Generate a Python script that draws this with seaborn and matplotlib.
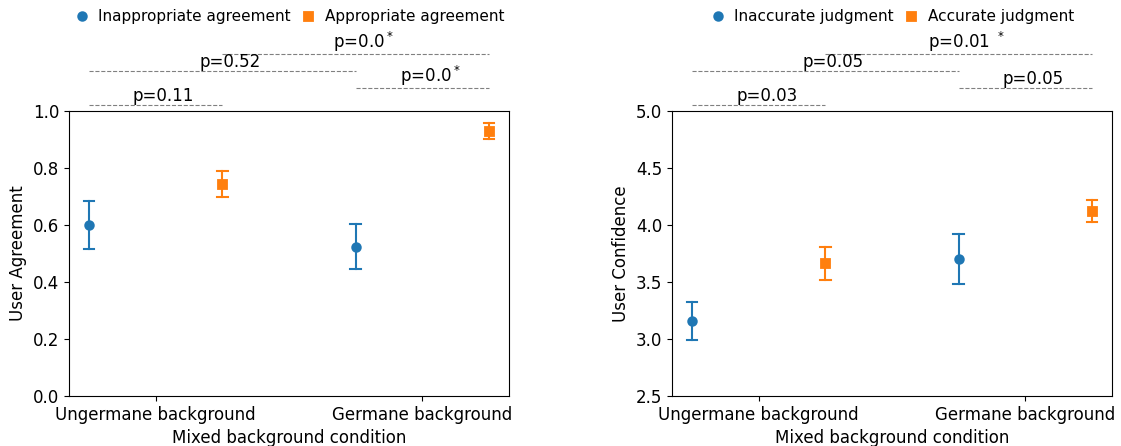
import numpy as np
import pandas as pd
import matplotlib
matplotlib.use("Agg")
import matplotlib.pyplot as plt
import seaborn as sns

plt.rcParams["font.family"] = ["DejaVu Sans"]

# ---- data ----
conditions = ["Ungermane background", "Germane background"]

agree_groups = ["Inappropriate agreement", "Appropriate agreement"]
agree_center = {"Inappropriate agreement": [0.600, 0.524],
                "Appropriate agreement": [0.744, 0.930]}
agree_low = {"Inappropriate agreement": [0.516, 0.446],
             "Appropriate agreement": [0.698, 0.902]}
agree_high = {"Inappropriate agreement": [0.683, 0.604],
              "Appropriate agreement": [0.791, 0.957]}
agree_pvals = ["p=0.11", "p=0.0$^*$", "p=0.52", "p=0.0$^*$"]

conf_groups = ["Inaccurate judgment", "Accurate judgment"]
conf_center = {"Inaccurate judgment": [3.155, 3.699],
               "Accurate judgment": [3.664, 4.120]}
conf_low = {"Inaccurate judgment": [2.991, 3.482],
            "Accurate judgment": [3.518, 4.026]}
conf_high = {"Inaccurate judgment": [3.325, 3.921],
             "Accurate judgment": [3.810, 4.216]}
conf_pvals = ["p=0.03", "p=0.05", "p=0.05", "p=0.01 $^*$"]

colors = ["#1f77b4", "#ff7f0e"]


def build_frame(groups, center, low, high):
    rows = []
    for g in groups:
        for i, c in enumerate(conditions):
            for v in (low[g][i], center[g][i], high[g][i]):
                rows.append({"condition": c, "group": g, "value": v})
    return pd.DataFrame(rows)


W, H = 1121, 446
fig = plt.figure(figsize=(W / 100, H / 100), dpi=100)
ax1 = fig.add_axes([69 / W, 50 / H, 440 / W, 285 / H])
ax2 = fig.add_axes([672 / W, 50 / H, 440 / W, 285 / H])

DODGE = 0.5


def panel(ax, groups, center, low, high, pvals, ylim, yticks, ylabel):
    df = build_frame(groups, center, low, high)
    sns.pointplot(data=df, x="condition", y="value", hue="group",
                  order=conditions, hue_order=groups,
                  estimator="median", errorbar=("pi", 100),
                  dodge=DODGE, markers=["o", "s"], linestyle="none",
                  palette=colors, capsize=0.04, markersize=5.5,
                  err_kws={"linewidth": 1.5}, ax=ax)
    ax.set_xlim(-0.325, 1.325)
    ax.set_ylim(*ylim)
    ax.set_yticks(yticks)
    ax.set_yticklabels([f"{v:.1f}" for v in yticks])
    ax.tick_params(labelsize=12)
    ax.set_ylabel(ylabel, fontsize=12)
    ax.set_xlabel("Mixed background condition", fontsize=12)
    for s in ax.spines.values():
        s.set_visible(True)

    # p-value annotation brackets (above the axes)
    pos = {}
    for h, g in enumerate(groups):
        off = -DODGE / 2 + DODGE * h
        for i in range(len(conditions)):
            pos[(h, i)] = i + off
    pairs = [((0, 0), (1, 0)), ((0, 1), (1, 1)),
             ((0, 0), (0, 1)), ((1, 0), (1, 1))]
    rng = ylim[1] - ylim[0]
    for k, ((a, b), txt) in enumerate(zip(pairs, pvals)):
        x0, x1 = pos[a], pos[b]
        y = ylim[1] + rng * (0.02 + 0.06 * k)
        ax.plot([x0, x1], [y, y], linestyle="--", color="grey",
                linewidth=0.8, clip_on=False)
        ax.text((x0 + x1) / 2 + 0.03, y, txt, ha="center", va="bottom",
                fontsize=12, clip_on=False)

    sns.move_legend(ax, "center", bbox_to_anchor=(0.5, 1.33), ncol=2,
                    frameon=False, title=None, fontsize=11,
                    handlelength=1.0, handletextpad=0.6, columnspacing=0.6)


panel(ax1, agree_groups, agree_center, agree_low, agree_high, agree_pvals,
      (0.0, 1.0), np.arange(0, 1.01, 0.2), "User Agreement")
panel(ax2, conf_groups, conf_center, conf_low, conf_high, conf_pvals,
      (2.5, 5.0), np.arange(2.5, 5.01, 0.5), "User Confidence")

fig.savefig("out.png", dpi=100)
